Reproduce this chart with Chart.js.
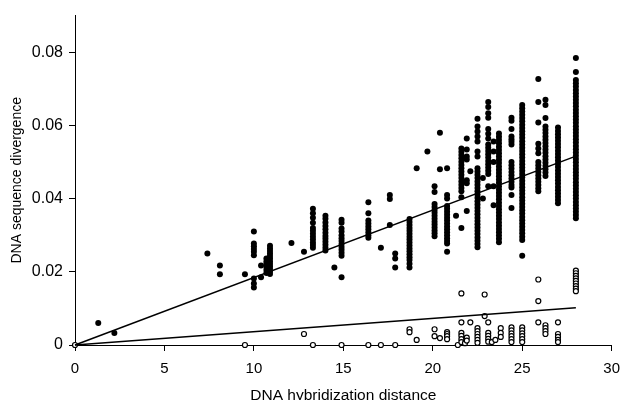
<!DOCTYPE html>
<html>
<head>
<meta charset="utf-8">
<script src="https://cdn.jsdelivr.net/npm/chart.js@4"></script>
<style>
html,body{margin:0;padding:0;background:#fff;}
canvas{display:block;}
</style>
</head>
<body>
<canvas id="c" width="629" height="400"></canvas>
<script>
// ---- Data ----
const xTicks = [0, 5, 10, 15, 20, 25, 30];
const xTickLabels = ['0', '5', '10', '15', '20', '25', '30'];
const yTicks = [0, 0.02, 0.04, 0.06, 0.08];
const yTickLabels = ['0', '0.02', '0.04', '0.06', '0.08'];

const xTitle = 'DNA hybridization distance';
const yTitle = 'DNA sequence divergence';

// filled circles: x positions and the y values stacked at each
const solidX = [1.3, 2.2, 7.4, 8.1, 9.5, 10.0, 10.4, 10.7, 10.9, 12.1, 12.8, 13.3, 14.0, 14.5, 14.9,
  16.4, 17.1, 17.6, 17.9, 18.7, 19.1, 19.7, 20.1, 20.4, 20.8, 21.3, 21.6, 21.9, 22.1, 22.5,
  22.8, 23.1, 23.4, 23.7, 24.4, 25.0, 25.9, 26.3, 27.0, 28.0];
const solidY = [
  [0.006],
  [0.0033],
  [0.025],
  [0.0217, 0.0193],
  [0.0193],
  [0.031, 0.0277, 0.027, 0.0262, 0.0255, 0.0245, 0.0182, 0.0168, 0.0157],
  [0.0217, 0.0185],
  [0.0236, 0.0228, 0.0221, 0.0213, 0.0205, 0.0197],
  [0.0271, 0.0264, 0.0257, 0.025, 0.0243, 0.0236, 0.0229, 0.0222, 0.0215, 0.0208, 0.0201, 0.0194],
  [0.0279],
  [0.0255],
  [0.0372, 0.036, 0.0348, 0.0334, 0.032, 0.0312, 0.0304, 0.0296, 0.0288, 0.028, 0.0273, 0.0266],
  [0.0353, 0.0345, 0.0335, 0.0325, 0.0316, 0.0307, 0.0298, 0.029, 0.0282, 0.0274, 0.0266, 0.0258],
  [0.0212],
  [0.0342, 0.0334, 0.0318, 0.031, 0.03, 0.0292, 0.0284, 0.0276, 0.0268, 0.026, 0.0252, 0.0244, 0.0185],
  [0.039, 0.036, 0.034, 0.0332, 0.0324, 0.0316, 0.0308, 0.03, 0.0293],
  [0.0266],
  [0.041, 0.0399, 0.0328],
  [0.025, 0.0236, 0.0212],
  [0.0344, 0.0336, 0.0328, 0.032, 0.0312, 0.0304, 0.0296, 0.0288, 0.028, 0.0272, 0.0264, 0.0256, 0.0248, 0.024, 0.0232, 0.0222, 0.0212],
  [0.0483],
  [0.0529],
  [0.0434, 0.0418, 0.0385, 0.0377, 0.0369, 0.0361, 0.0353, 0.0345, 0.0337, 0.0329, 0.0321, 0.0313, 0.0305, 0.0297],
  [0.058, 0.048],
  [0.0483, 0.041, 0.04, 0.038, 0.0372, 0.0364, 0.0356, 0.0348, 0.034, 0.0332, 0.0324, 0.0316, 0.0308, 0.03, 0.0292, 0.0284, 0.0277, 0.0255],
  [0.0353],
  [0.0537, 0.0528, 0.0519, 0.051, 0.0501, 0.0492, 0.0483, 0.0474, 0.0465, 0.0456, 0.0447, 0.0438, 0.0429, 0.042, 0.0404, 0.032],
  [0.0564, 0.0534, 0.0515, 0.0507, 0.045, 0.0442, 0.0366],
  [0.0475],
  [0.0618, 0.0597, 0.0583, 0.057, 0.0556, 0.0529, 0.0515, 0.0483, 0.0474, 0.0465, 0.0456, 0.0447, 0.0438, 0.0429, 0.042, 0.0411, 0.0402, 0.0393, 0.0384, 0.0375, 0.0366, 0.0357, 0.0348, 0.0339, 0.033, 0.0321, 0.0312, 0.0303, 0.0294, 0.0285, 0.0276, 0.0267],
  [0.0456, 0.040],
  [0.0664, 0.065, 0.0633, 0.0621, 0.059, 0.0577, 0.0564, 0.0548, 0.0539, 0.053, 0.0521, 0.0512, 0.0503, 0.0494, 0.0485, 0.0476, 0.0467, 0.0434],
  [0.0556, 0.0529, 0.05, 0.0434, 0.0382],
  [0.0578, 0.0569, 0.056, 0.0551, 0.0542, 0.0533, 0.0524, 0.0515, 0.0506, 0.0497, 0.0488, 0.0479, 0.047, 0.0461, 0.0452, 0.0443, 0.0434, 0.0425, 0.0416, 0.0407, 0.0398, 0.0389, 0.038, 0.0371, 0.0362, 0.0353, 0.0344, 0.0335, 0.0326, 0.0317, 0.0308, 0.0299, 0.029, 0.0281],
  [0.0621, 0.0613, 0.059, 0.057, 0.0562, 0.0555, 0.0548, 0.05, 0.0491, 0.0482, 0.0473, 0.0464, 0.0455, 0.0446, 0.0437, 0.043, 0.041, 0.0374],
  [0.0656, 0.0647, 0.0638, 0.0629, 0.062, 0.0611, 0.0602, 0.0593, 0.0584, 0.0575, 0.0566, 0.0557, 0.0548, 0.0539, 0.053, 0.0521, 0.0512, 0.0503, 0.0494, 0.0485, 0.0476, 0.0467, 0.0458, 0.0449, 0.044, 0.0431, 0.0422, 0.0413, 0.0404, 0.0395, 0.0386, 0.0377, 0.0368, 0.0359, 0.035, 0.0341, 0.0332, 0.0323, 0.0314, 0.0305, 0.0296, 0.0287, 0.0244],
  [0.0727, 0.0664, 0.0608, 0.055, 0.0537, 0.0524, 0.05, 0.0491, 0.0482, 0.0473, 0.0464, 0.0455, 0.0446, 0.0437, 0.0428, 0.042],
  [0.067, 0.0656, 0.062, 0.0597, 0.0588, 0.0579, 0.057, 0.0561, 0.0552, 0.0543, 0.0534, 0.0525, 0.0516, 0.0507, 0.0498, 0.0489, 0.048, 0.0471, 0.0462],
  [0.0594, 0.0585, 0.0576, 0.0567, 0.0558, 0.0549, 0.054, 0.0531, 0.0522, 0.0513, 0.0504, 0.0495, 0.0486, 0.0477, 0.0468, 0.0459, 0.045, 0.0441, 0.0432, 0.0423, 0.0414, 0.0405, 0.0396, 0.0387],
  [0.0784, 0.0746, 0.0724, 0.0715, 0.0706, 0.0697, 0.0688, 0.0679, 0.067, 0.0661, 0.0652, 0.0643, 0.0634, 0.0625, 0.0616, 0.0607, 0.0598, 0.0589, 0.058, 0.0571, 0.0562, 0.0553, 0.0544, 0.0535, 0.0526, 0.0517, 0.0508, 0.0499, 0.049, 0.0481, 0.0472, 0.0463, 0.0454, 0.0445, 0.0436, 0.0427, 0.0418, 0.0409, 0.04, 0.0391, 0.0382, 0.0373, 0.0364, 0.0355, 0.0346]
];

// open circles
const openX = [0, 9.5, 12.8, 13.3, 14.9, 16.4, 17.1, 17.9, 18.7, 19.1, 20.1, 20.4, 20.8, 21.4, 21.6,
  21.8, 21.9, 22.1, 22.5, 22.9, 23.1, 23.3, 23.5, 23.8, 24.4, 25.0, 25.9, 26.3, 27.0, 28.0];
const openY = [
  [0], [0], [0.003], [0], [0], [0], [0], [0],
  [0.0043, 0.0035],
  [0.0014],
  [0.0043, 0.0024],
  [0.0019],
  [0.0035, 0.003, 0.0024, 0.0016],
  [0],
  [0.0141, 0.0062, 0.0033, 0.0025, 0.0016, 0.0008],
  [0.0005],
  [0.002, 0.0012],
  [0.0062],
  [0.0046, 0.0038, 0.003, 0.0022, 0.0014, 0.0006],
  [0.0138, 0.0079],
  [0.0062, 0.0033, 0.0025, 0.0017, 0.0009],
  [0.0008],
  [0.0014],
  [0.0046, 0.0033, 0.0022],
  [0.0048, 0.004, 0.0032, 0.0024, 0.0016, 0.0008],
  [0.0048, 0.004, 0.0032, 0.0024, 0.0016, 0.0008],
  [0.0179, 0.012, 0.0062],
  [0.0054, 0.0046, 0.0038, 0.003],
  [0.0062, 0.003, 0.0022, 0.0014, 0.0008],
  [0.0203, 0.0196, 0.0189, 0.0182, 0.0175, 0.0168, 0.0161, 0.0154, 0.0147]
];

// fitted regression lines (end points)
const fitX = [0, 28];
const fitSolid = [0, 0.0516];
const fitOpen = [0, 0.0102];

// ---- build datasets ----
function columnsToPoints(xs, ys) {
  const pts = [];
  xs.forEach((x, i) => ys[i].forEach(y => pts.push({x: x, y: y})));
  return pts;
}
const lineFrom = (xs, ys) => xs.map((x, i) => ({x: x, y: ys[i]}));

const FONT = "'Liberation Sans', Arial, Helvetica, sans-serif";

new Chart(document.getElementById('c'), {
  type: 'scatter',
  data: {
    datasets: [
      {
        type: 'line', data: lineFrom(fitX, fitSolid), borderColor: '#000', borderWidth: 1.5,
        pointRadius: 0, fill: false, clip: false
      },
      {
        type: 'line', data: lineFrom(fitX, fitOpen), borderColor: '#000', borderWidth: 1.5,
        pointRadius: 0, fill: false, clip: false
      },
      {
        data: columnsToPoints(openX, openY), pointRadius: 2.5, pointBorderWidth: 1.2,
        backgroundColor: '#fff', borderColor: '#000', clip: false
      },
      {
        data: columnsToPoints(solidX, solidY), pointRadius: 3, pointBorderWidth: 0,
        backgroundColor: '#000', borderColor: '#000', clip: false
      }
    ]
  },
  options: {
    responsive: false,
    animation: false,
    devicePixelRatio: 1,
    layout: {padding: {top: 13, right: 8, left: 0, bottom: 0}},
    plugins: {legend: {display: false}, tooltip: {enabled: false}},
    scales: {
      x: {
        type: 'linear', min: 0, max: 30,
        afterBuildTicks: s => { s.ticks = xTicks.map(v => ({value: v})); },
        afterFit: s => { s.height = 55; },
        grid: {display: true, drawOnChartArea: false, drawTicks: true, tickLength: 6, color: '#000', lineWidth: 1},
        border: {display: true, color: '#000', width: 1},
        ticks: {color: '#000', padding: 9, maxRotation: 0, font: {family: FONT, size: 15},
          callback: (v, i) => xTickLabels[i]},
        title: {display: true, text: xTitle, color: '#000', font: {family: FONT, size: 15.5},
          padding: {top: 0, bottom: -5}}
      },
      y: {
        type: 'linear', min: 0, max: 0.09,
        afterBuildTicks: s => { s.ticks = yTicks.map(v => ({value: v})); },
        afterFit: s => { s.width = 75; },
        grid: {display: true, drawOnChartArea: false, drawTicks: true, tickLength: 6, color: '#000', lineWidth: 1},
        border: {display: true, color: '#000', width: 1},
        ticks: {color: '#000', padding: 6, font: {family: FONT, size: 16},
          callback: (v, i) => yTickLabels[i]},
        title: {display: true, text: yTitle, color: '#000', font: {family: FONT, size: 14},
          padding: {top: 9, bottom: 0}}
      }
    }
  }
});
</script>
</body>
</html>
